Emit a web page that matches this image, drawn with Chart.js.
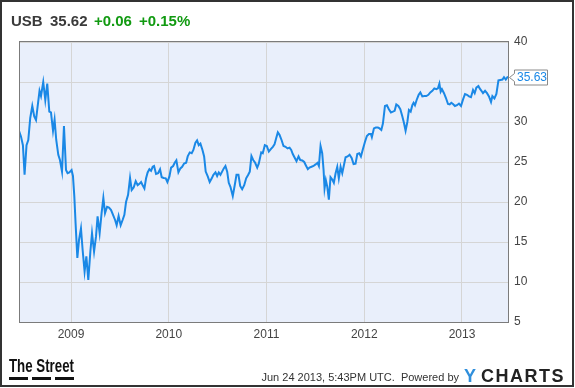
<!DOCTYPE html>
<html>
<head>
<meta charset="utf-8">
<script src="https://cdn.jsdelivr.net/npm/chart.js@4.4.0/dist/chart.umd.min.js"></script>
<style>
  html, body { margin: 0; padding: 0; background: #fff; }
  #wrap { width: 575px; height: 388px; }
</style>
</head>
<body>
<div id="wrap"><canvas id="chart" width="575" height="388"></canvas></div>
<script>
// header values
const ticker = 'USB';
const lastPrice = '35.62';
const change = '+0.06';
const changePct = '+0.15%';
const lastLabel = '35.63';
const stamp = 'Jun 24 2013, 5:43PM UTC.  Powered by';

// weekly closes, x as decimal year
const dates = [
  2008.468, 2008.488, 2008.508, 2008.525, 2008.545, 2008.563, 2008.583, 2008.604, 2008.624, 2008.642,
  2008.658, 2008.678, 2008.693, 2008.716, 2008.737, 2008.757, 2008.778, 2008.795, 2008.816, 2008.832,
  2008.849, 2008.870, 2008.887, 2008.908, 2008.928, 2008.949, 2008.965, 2008.983, 2009.006, 2009.020,
  2009.034, 2009.047, 2009.065, 2009.082, 2009.102, 2009.119, 2009.139, 2009.157, 2009.177, 2009.198,
  2009.215, 2009.236, 2009.256, 2009.272, 2009.293, 2009.313, 2009.331, 2009.348, 2009.369, 2009.389,
  2009.410, 2009.430, 2009.451, 2009.467, 2009.487, 2009.508, 2009.528, 2009.546, 2009.563, 2009.584,
  2009.604, 2009.621, 2009.641, 2009.662, 2009.682, 2009.703, 2009.717, 2009.733, 2009.751, 2009.768,
  2009.784, 2009.802, 2009.819, 2009.836, 2009.850, 2009.870, 2009.891, 2009.911, 2009.928, 2009.948,
  2009.969, 2009.986, 2010.007, 2010.024, 2010.045, 2010.061, 2010.078, 2010.099, 2010.119, 2010.137,
  2010.157, 2010.178, 2010.194, 2010.215, 2010.235, 2010.252, 2010.273, 2010.290, 2010.307, 2010.324,
  2010.345, 2010.362, 2010.378, 2010.399, 2010.419, 2010.440, 2010.457, 2010.478, 2010.495, 2010.512,
  2010.529, 2010.546, 2010.563, 2010.580, 2010.598, 2010.614, 2010.631, 2010.655, 2010.675, 2010.693,
  2010.713, 2010.731, 2010.751, 2010.772, 2010.792, 2010.813, 2010.829, 2010.846, 2010.864, 2010.884,
  2010.905, 2010.921, 2010.946, 2010.962, 2010.983, 2011.003, 2011.024, 2011.044, 2011.065, 2011.082,
  2011.099, 2011.116, 2011.133, 2011.154, 2011.174, 2011.195, 2011.215, 2011.236, 2011.253, 2011.269,
  2011.290, 2011.307, 2011.328, 2011.345, 2011.366, 2011.386, 2011.402, 2011.423, 2011.440, 2011.461,
  2011.481, 2011.502, 2011.522, 2011.536, 2011.553, 2011.570, 2011.584, 2011.594, 2011.607, 2011.622,
  2011.638, 2011.655, 2011.673, 2011.689, 2011.707, 2011.724, 2011.740, 2011.758, 2011.775, 2011.792,
  2011.809, 2011.830, 2011.850, 2011.871, 2011.891, 2011.911, 2011.929, 2011.949, 2011.966, 2011.986,
  2012.007, 2012.027, 2012.048, 2012.068, 2012.078, 2012.099, 2012.119, 2012.140, 2012.157, 2012.175,
  2012.191, 2012.212, 2012.232, 2012.252, 2012.273, 2012.293, 2012.311, 2012.328, 2012.349, 2012.369,
  2012.390, 2012.406, 2012.423, 2012.441, 2012.457, 2012.475, 2012.492, 2012.505, 2012.519, 2012.536,
  2012.557, 2012.574, 2012.594, 2012.615, 2012.635, 2012.656, 2012.676, 2012.697, 2012.717, 2012.738,
  2012.754, 2012.769, 2012.782, 2012.795, 2012.816, 2012.836, 2012.857, 2012.874, 2012.891, 2012.908,
  2012.928, 2012.949, 2012.969, 2012.990, 2013.010, 2013.031, 2013.051, 2013.072, 2013.092, 2013.113,
  2013.130, 2013.147, 2013.168, 2013.181, 2013.199, 2013.215, 2013.236, 2013.256, 2013.276, 2013.297,
  2013.311, 2013.332, 2013.352, 2013.373, 2013.393, 2013.414, 2013.430, 2013.448, 2013.465, 2013.481
];
const prices = [
  28.9, 28.2, 27.1, 23.4, 27.1, 27.75, 30.5, 32.0, 30.7, 30.25,
  31.9, 33.9, 33.25, 35.0, 32.75, 34.8, 31.3, 31.2, 28.9, 30.3,
  27.75, 25.9, 25.25, 23.8, 29.5, 24.0, 23.6, 23.7, 24.0, 23.25,
  20.7, 17.3, 13.0, 15.25, 16.7, 14.0, 11.3, 13.2, 10.25, 13.8,
  16.1, 13.8, 15.7, 18.2, 16.1, 18.6, 20.5, 18.6, 19.4, 19.3,
  19.0, 18.4, 17.75, 17.1, 18.25, 17.1, 17.75, 18.4, 20.0, 20.9,
  23.0, 21.5, 21.8, 22.6, 22.1, 22.3, 22.5, 22.1, 21.7, 22.96,
  23.7, 24.1, 23.9, 24.4, 24.5, 23.5, 23.6, 24.1, 23.1, 23.0,
  22.96, 22.5, 23.2, 24.3, 24.5, 24.9, 25.2, 23.7, 24.2, 24.4,
  24.8, 24.9, 25.7, 26.2, 26.1, 26.5, 27.4, 27.7, 27.1, 27.3,
  26.5, 25.7, 23.8, 23.2, 22.5, 22.96, 23.4, 23.7, 23.25, 23.7,
  23.4, 23.8, 24.2, 24.5, 23.8, 22.4, 21.9, 20.75, 22.1, 23.4,
  23.4, 22.0, 21.6, 22.1, 22.96, 23.4, 23.8, 25.75, 25.25, 24.9,
  24.3, 24.8, 26.2, 26.1, 27.1, 27.0, 26.3, 26.6, 26.9, 27.2,
  27.96, 28.7, 28.4, 27.75, 27.0, 26.9, 26.7, 26.8, 26.5, 26.0,
  25.5, 25.1, 25.7, 25.25, 25.2, 25.0, 24.6, 24.1, 24.3, 24.4,
  24.5, 24.7, 24.9, 24.5, 27.0, 26.1, 24.0, 21.7, 22.75, 21.9,
  20.3, 23.1, 22.8, 22.4, 23.6, 24.4, 22.96, 24.4, 23.6, 24.6,
  25.6, 25.7, 25.9, 25.5, 24.75, 24.8, 26.0, 26.1, 25.7, 26.6,
  27.5, 28.25, 28.5, 28.5, 28.1, 29.2, 29.3, 29.3, 29.2, 29.0,
  29.8, 32.0, 32.1, 31.6, 31.2, 31.3, 31.4, 32.2, 32.0, 31.6,
  30.7, 29.9, 28.9, 30.0, 31.5, 31.3, 32.1, 32.4, 32.1, 32.75,
  33.4, 33.7, 33.2, 33.25, 33.25, 33.4, 33.7, 33.9, 34.2, 34.1,
  34.2, 34.8, 33.8, 34.1, 33.6, 33.0, 32.25, 32.2, 32.4, 32.25,
  32.0, 32.1, 32.3, 32.0, 32.8, 33.5, 33.4, 33.2, 33.1, 34.0,
  33.6, 34.3, 34.5, 34.2, 33.9, 33.6, 33.9, 33.6, 33.2, 32.5,
  33.25, 32.96, 33.5, 35.2, 35.25, 35.3, 35.6, 35.3, 35.6, 35.63
];
const yearTicks = [2009, 2010, 2011, 2012, 2013];
const priceTicks = [5, 10, 15, 20, 25, 30, 35, 40];

const lineBlue = '#1a88e6';
const axisFont = { family: 'Arial, "Liberation Sans", sans-serif', size: 12 };

// frame, header, footer and last value flag
const decor = {
  id: 'decor',
  beforeDraw(chart) {
    const { ctx, chartArea: a } = chart;
    ctx.save();
    ctx.fillStyle = '#fff';
    ctx.fillRect(0, 0, chart.width, chart.height);
    ctx.fillStyle = '#e9effb';
    ctx.fillRect(a.left, a.top, a.right - a.left, a.bottom - a.top);
    ctx.restore();
  },
  afterDraw(chart) {
    const { ctx, chartArea: a } = chart;
    const y = chart.scales.y;
    ctx.save();

    // plot frame
    ctx.strokeStyle = '#7b7b7b';
    ctx.lineWidth = 1;
    ctx.strokeRect(a.left + 0.5, a.top - 0.5, a.right - a.left - 1, a.bottom - a.top + 1);

    // outer border
    ctx.strokeStyle = '#333';
    ctx.lineWidth = 2;
    ctx.strokeRect(1, 1, 572, 385);

    // header
    ctx.font = 'bold 15px Arial, "Liberation Sans", sans-serif';
    ctx.textBaseline = 'alphabetic';
    ctx.textAlign = 'left';
    ctx.fillStyle = '#3a3a3a';
    ctx.fillText(ticker, 11, 26);
    ctx.fillText(lastPrice, 50, 26);
    ctx.fillStyle = '#119a11';
    ctx.fillText(change, 94, 26);
    ctx.fillText(changePct, 139, 26);

    // last value flag
    const py = Math.round(y.getPixelForValue(prices[prices.length - 1])) + 0.5;
    ctx.beginPath();
    ctx.moveTo(514.5, py - 7.5);
    ctx.lineTo(547.5, py - 7.5);
    ctx.lineTo(547.5, py + 7.5);
    ctx.lineTo(514.5, py + 7.5);
    ctx.lineTo(514.5, py + 4);
    ctx.lineTo(509.5, py);
    ctx.lineTo(514.5, py - 4);
    ctx.closePath();
    ctx.fillStyle = '#fff';
    ctx.fill();
    ctx.strokeStyle = '#8a8a8a';
    ctx.lineWidth = 1;
    ctx.stroke();
    ctx.font = '12px Arial, "Liberation Sans", sans-serif';
    ctx.fillStyle = lineBlue;
    ctx.textBaseline = 'middle';
    ctx.fillText(lastLabel, 517, py + 0.5);

    // footer: The Street logo, squeezed to a condensed look
    ctx.fillStyle = '#111';
    ctx.font = 'bold 18px Arial, "Liberation Sans", sans-serif';
    ctx.textBaseline = 'alphabetic';
    const w = ctx.measureText('The Street').width;
    ctx.save();
    ctx.translate(9, 372);
    ctx.scale(65 / w, 1);
    ctx.fillText('The Street', 0, 0);
    ctx.restore();
    ctx.fillRect(9, 377, 19, 3);
    ctx.fillRect(32, 377, 19, 3);
    ctx.fillRect(55, 377, 19, 3);

    // footer: timestamp
    ctx.fillStyle = '#333';
    ctx.font = '11px Arial, "Liberation Sans", sans-serif';
    ctx.textAlign = 'right';
    ctx.fillText(stamp, 459, 381);

    // footer: YCHARTS
    ctx.textAlign = 'left';
    ctx.font = 'bold 18px Arial, "Liberation Sans", sans-serif';
    ctx.fillStyle = '#2f8fdc';
    ctx.fillText('Y', 464, 382);
    ctx.fillStyle = '#222';
    ctx.letterSpacing = '1.5px';
    ctx.fillText('CHARTS', 481, 382);
    ctx.restore();
  }
};

new Chart(document.getElementById('chart'), {
  type: 'line',
  data: {
    datasets: [{
      data: dates.map((d, i) => ({ x: d, y: prices[i] })),
      borderColor: lineBlue,
      borderWidth: 2,
      pointRadius: 0,
      tension: 0,
      fill: false
    }]
  },
  options: {
    responsive: false,
    animation: false,
    layout: { padding: { left: 19, top: 42, right: 0, bottom: 0 } },
    plugins: { legend: { display: false }, tooltip: { enabled: false } },
    scales: {
      x: {
        type: 'linear',
        min: dates[0],
        max: dates[dates.length - 1],
        afterBuildTicks: s => { s.ticks = yearTicks.map(v => ({ value: v })); },
        afterFit: s => { s.height = 66; },
        grid: { color: '#d5d5d5', drawTicks: false },
        border: { display: false },
        ticks: { font: axisFont, color: '#444', padding: 5, maxRotation: 0, autoSkip: false, callback: v => String(v) }
      },
      y: {
        position: 'right',
        min: 5,
        max: 40,
        afterBuildTicks: s => { s.ticks = priceTicks.map(v => ({ value: v })); },
        afterFit: s => { s.width = 66; },
        grid: { color: '#d5d5d5', drawTicks: false },
        border: { display: false },
        ticks: { font: axisFont, color: '#444', padding: 5, callback: v => String(v) }
      }
    }
  },
  plugins: [decor]
});
</script>
</body>
</html>
